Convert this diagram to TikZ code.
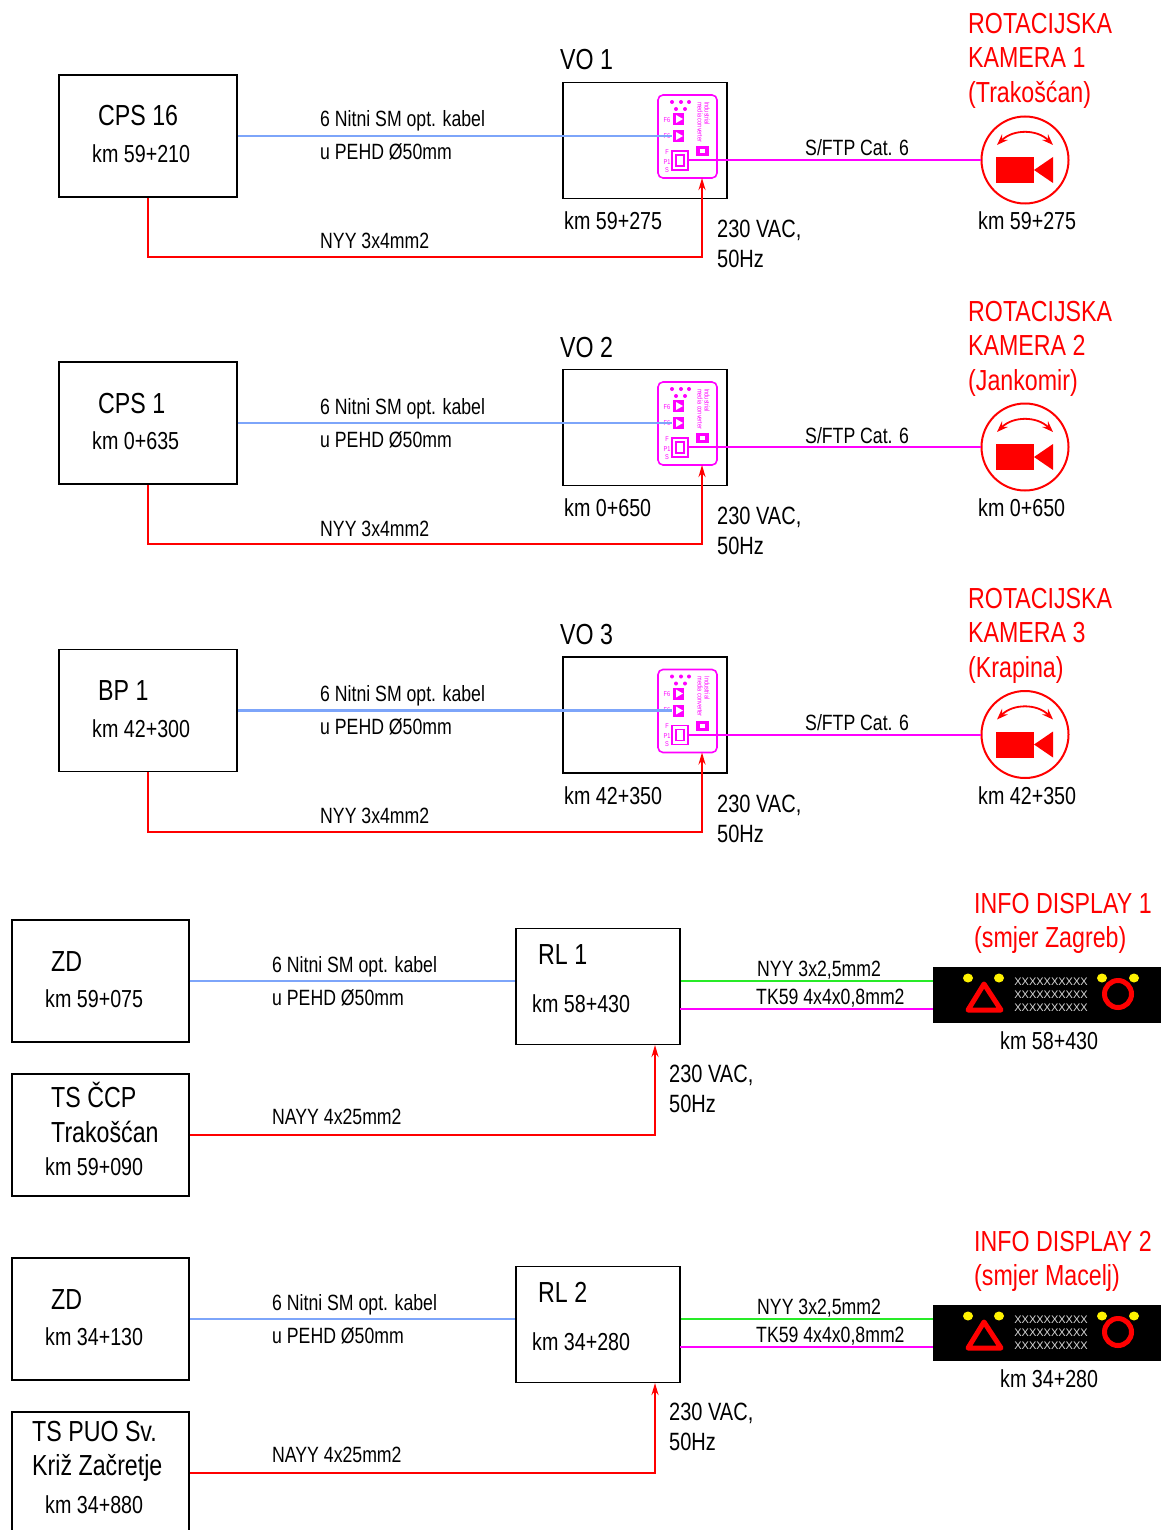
\documentclass[tikz,border=0pt]{standalone}
\usepackage{fontspec}
\setmainfont[FakeStretch=0.8]{Liberation Sans}
\newfontfamily\dispfont{Liberation Sans}
\usetikzlibrary{arrows.meta}
\definecolor{fibre}{RGB}{125,165,250}
\definecolor{utp}{RGB}{255,0,255}
\definecolor{mains}{RGB}{255,0,0}
\definecolor{ctrl}{RGB}{40,235,40}
\tikzset{
  lbl/.style={anchor=west,inner sep=0pt,text height=16pt,text depth=0pt,font=\fontsize{22.1}{22}\selectfont},
  kmlbl/.style={anchor=west,inner sep=0pt,text height=17pt,text depth=0pt,font=\fontsize{24.6}{24.5}\selectfont},
  ttl/.style={anchor=west,inner sep=0pt,text height=20pt,text depth=0pt,font=\fontsize{29}{29}\selectfont},
  redttl/.style={ttl,text=mains},
  vaclbl/.style={anchor=west,inner sep=0pt,text height=17pt,text depth=0pt,font=\fontsize{25}{25}\selectfont},
  cpsbox/.style={draw,line width=1.6pt,inner sep=0pt,minimum width=178pt,minimum height=122pt},
  vobox/.style={draw,line width=1.6pt,inner sep=0pt,minimum width=164pt,minimum height=116pt},
  fibrel/.style={fibre,line width=2.4pt},
  utpl/.style={utp,line width=2pt},
  mainsl/.style={mains,line width=2pt},
  ctrll/.style={ctrl,line width=2pt},
  feed/.style={mainsl,-{Stealth[length=12pt,width=7pt]}},
  convtxt/.style={inner sep=0pt,text=utp,font=\fontsize{7}{7}\selectfont},
  medconv/.pic={
    \draw[utp,line width=1.6pt,rounded corners=5pt] (0,0) rectangle (59,83);
    \foreach \i/\dx/\dy in {1/14/7,2/23/7,3/31/7,4/18/14,5/27/14}
      \fill[utp] (\dx,\dy) circle (2);
    \node[convtxt,rotate=-90,anchor=west] (ind) at (49,7) {Industrial};
    \node[convtxt,rotate=-90,anchor=west] (med) at (42,7) {media converter};
    \node[convtxt] (fa) at (9,25) {F6};
    \node[convtxt] (fb) at (9,41) {F6};
    \fill[utp] (15,18) rectangle (26,30);
    \fill[utp] (15,35) rectangle (26,47);
    \fill[white] (18,20) -- (25,24) -- (18,28) -- cycle;
    \fill[white] (18,37) -- (25,41) -- (18,45) -- cycle;
    \node[convtxt] (pf) at (9,57) {F};
    \node[convtxt] (pp) at (9,67) {P1};
    \node[convtxt] (ps) at (9,75) {S};
    \draw[utp,line width=1.6pt] (14,56) rectangle (30,75);
    \draw[utp,line width=1.6pt] (18,60) rectangle (26,71);
    \fill[utp] (38,51) rectangle (51,61);
    \fill[white] (42,54) rectangle (47,58);
  },
  rotcam/.pic={
    \fill[mains] (-29,-3) rectangle (9,23);
    \fill[mains] (9,10) -- (28,-3) -- (28,23) -- cycle;
    \draw[mains,line width=1.8pt,{Stealth[length=11pt,width=8pt]}-{Stealth[length=11pt,width=8pt]}]
      (-28,-15) .. controls (-12,-31) and (12,-31) .. (28,-15);
  },
  infopanel/.pic={
    \foreach \i/\dx in {1/35,2/66,3/169,4/201}
      \fill[yellow] (\dx,11) ellipse (5 and 4.5);
    \draw[mains,line width=5pt,line join=round] (51,17) -- (35,43) -- (68,43) -- cycle;
    \draw[mains,line width=5pt] (185,27) circle (13.5);
    \foreach \i/\dy in {1/15,2/28,3/41}
      \node[inner sep=0pt,text=white!85!black,font=\dispfont\fontsize{11}{11}\selectfont] (xx\i) at (118,\dy) {XXXXXXXXXX};
  }
}
\begin{document}
\begin{tikzpicture}[x=1pt,y=-1pt]
\useasboundingbox (0,0) rectangle (1161,1530);
% kamere
\foreach \n/\y/\src/\srckm/\vokm/\city in {
  1/0/CPS 16/km 59+210/km 59+275/Trakošćan,
  2/287/CPS 1/km 0+635/km 0+650/Jankomir,
  3/574.5/BP 1/km 42+300/km 42+350/Krapina}{
\begin{scope}[shift={(0,\y)}]
  \node[cpsbox] (src\n) at (148,136) {};
  \node[ttl] (srcname\n) at (98,116) {\src};
  \node[kmlbl] (srckm\n) at (92,154) {\srckm};
  \node[vobox] (vo\n) at (645,140.5) {};
  \node[ttl] (voname\n) at (560,60) {VO \n};
  \node[kmlbl] (vokm\n) at (564,221) {\vokm};
  \pic (conv\n) at (658,95) {medconv};
  \coordinate (fin\n) at (672,136);
  \coordinate (fout\n) at (688,160);
  \coordinate (turn\n) at (702,257);
  \coordinate (pwr\n) at (702,178);
  \node[draw=mains,line width=2pt,circle,inner sep=0pt,minimum size=87pt] (cam\n) at (1025,160) {};
  \pic (icon\n) at (1025,160) {rotcam};
  \draw[fibrel] (src\n.east |- fin\n) -- (fin\n);
  \draw[utpl] (fout\n) -- (cam\n.west);
  \draw[feed] (src\n.south) |- (turn\n) -- (pwr\n);
  \node[lbl] (fa\n) at (320,119) {6 Nitni SM opt. kabel};
  \node[lbl] (fb\n) at (320,152) {u PEHD Ø50mm};
  \node[lbl] (nyy\n) at (320,241) {NYY 3x4mm2};
  \node[lbl] (sftp\n) at (805,148) {S/FTP Cat. 6};
  \node[vaclbl] (vac\n) at (717,229) {230 VAC,};
  \node[vaclbl] (hz\n) at (717,259) {50Hz};
  \node[redttl] (rot\n) at (968,24) {ROTACIJSKA};
  \node[redttl] (kam\n) at (968,58) {KAMERA \n};
  \node[redttl] (city\n) at (968,93) {(\city)};
  \node[kmlbl] (camkm\n) at (978,221) {\vokm};
\end{scope}
}
% displeji
\foreach \n/\y/\zdkm/\rlkm/\tsx/\tsya/\tsyb/\tsa/\tsb/\tskm/\smjer in {
  1/0/km 59+075/km 58+430/51/1097/1132/TS ČCP/Trakošćan/km 59+090/Zagreb,
  2/338/km 34+130/km 34+280/32/1093/1127/TS PUO Sv./Križ Začretje/km 34+880/Macelj}{
\begin{scope}[shift={(0,\y)}]
  \node[cpsbox,minimum width=177pt] (zd\n) at (100.5,981) {};
  \node[ttl] (zdname\n) at (51,961) {ZD};
  \node[kmlbl] (zdkm\n) at (45,999) {\zdkm};
  \node[cpsbox,minimum width=177pt] (ts\n) at (100.5,1135) {};
  \node[ttl] (tsa\n) at (\tsx,\tsya) {\tsa};
  \node[ttl] (tsb\n) at (\tsx,\tsyb) {\tsb};
  \node[kmlbl] (tskm\n) at (45,1167) {\tskm};
  \node[vobox] (rl\n) at (598,986.5) {};
  \node[ttl] (rlname\n) at (538,954) {RL \n};
  \node[kmlbl] (rlkm\n) at (532,1004) {\rlkm};
  \node[fill=black,inner sep=0pt,minimum width=228pt,minimum height=56pt] (disp\n) at (1047,995) {};
  \pic (panel\n) at (933,967) {infopanel};
  \coordinate (tk\n) at (680,1009);
  \coordinate (rlin\n) at (655,1045);
  \draw[fibrel] (zd\n.east) -- (rl\n.west |- zd\n);
  \draw[ctrll] (rl\n.east |- zd\n) -- (disp\n.west |- zd\n);
  \draw[utpl] (tk\n) -- (disp\n.west |- tk\n);
  \draw[feed] (ts\n.east) -| (rlin\n);
  \node[lbl] (fa\n) at (272,964) {6 Nitni SM opt. kabel};
  \node[lbl] (fb\n) at (272,997) {u PEHD Ø50mm};
  \node[lbl] (nayy\n) at (272,1116) {NAYY 4x25mm2};
  \node[lbl] (nyy\n) at (757,968) {NYY 3x2,5mm2};
  \node[lbl] (tkl\n) at (756,996) {TK59 4x4x0,8mm2};
  \node[vaclbl] (vac\n) at (669,1073.5) {230 VAC,};
  \node[vaclbl] (hz\n) at (669,1103.5) {50Hz};
  \node[redttl] (info\n) at (974,903) {INFO DISPLAY \n};
  \node[redttl] (smjer\n) at (974,937) {(smjer \smjer)};
  \node[kmlbl] (dispkm\n) at (1000,1041) {\rlkm};
\end{scope}
}
\end{tikzpicture}
\end{document}
